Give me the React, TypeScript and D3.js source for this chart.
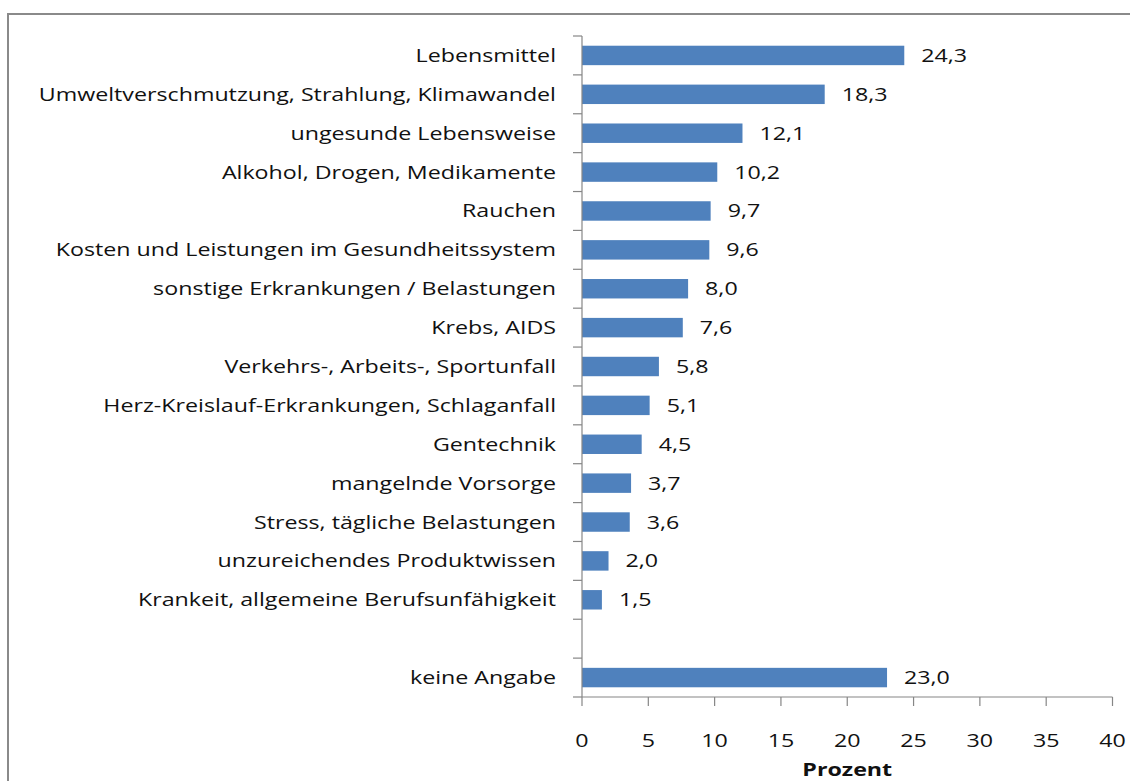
import React, { useEffect, useRef } from "react";
import * as d3 from "d3";

// Umfragewerte (Prozent), von oben nach unten
const categories = [
  "Lebensmittel",
  "Umweltverschmutzung, Strahlung, Klimawandel",
  "ungesunde Lebensweise",
  "Alkohol, Drogen, Medikamente",
  "Rauchen",
  "Kosten und Leistungen im Gesundheitssystem",
  "sonstige Erkrankungen / Belastungen",
  "Krebs, AIDS",
  "Verkehrs-, Arbeits-, Sportunfall",
  "Herz-Kreislauf-Erkrankungen, Schlaganfall",
  "Gentechnik",
  "mangelnde Vorsorge",
  "Stress, tägliche Belastungen",
  "unzureichendes Produktwissen",
  "Krankeit, allgemeine Berufsunfähigkeit",
  "",
  "keine Angabe",
];
const values = [24.3, 18.3, 12.1, 10.2, 9.7, 9.6, 8.0, 7.6, 5.8, 5.1, 4.5, 3.7, 3.6, 2.0, 1.5, null, 23.0];
const xTicks = [0, 5, 10, 15, 20, 25, 30, 35, 40];
const xTitle = "Prozent";

const W = 1130;
const H = 781;
const FONT = "'Open Sans', 'Liberation Sans', sans-serif";
const SX = 1.29; // Schrift horizontal gestreckt wie im Original

const App = () => {
  const ref = useRef<SVGSVGElement | null>(null);

  useEffect(() => {
    const svg = d3.select(ref.current);
    svg.selectAll("*").remove();

    // Rahmen
    svg.append("rect")
      .attr("x", 8).attr("y", 14)
      .attr("width", W + 20).attr("height", H + 20)
      .attr("fill", "white")
      .attr("stroke", "#8a8a8a")
      .attr("stroke-width", 2);

    const keys = categories.map((c, i) => `${i}`);
    const x = d3.scaleLinear().domain([0, 40]).range([582, 1112.5]);
    const y = d3.scaleBand().domain(keys).range([36, 697]).paddingInner(0.5).paddingOuter(0.25);
    const step = y.step();
    const top = 36;

    const fmt = (v: number) => v.toFixed(1).replace(".", ",");

    // Balken
    svg.append("g")
      .selectAll("rect")
      .data(values.map((v, i) => ({ v, k: keys[i] })).filter(d => d.v != null))
      .join("rect")
      .attr("x", x(0))
      .attr("y", d => y(d.k)!)
      .attr("width", d => x(d.v as number) - x(0))
      .attr("height", y.bandwidth())
      .attr("fill", "#4f81bd");

    // Werte
    svg.append("g")
      .selectAll("text")
      .data(values.map((v, i) => ({ v, k: keys[i] })).filter(d => d.v != null))
      .join("text")
      .attr("transform", d => `translate(${x(d.v as number) + 17},${y(d.k)! + y.bandwidth() / 2 + 6.5}) scale(${SX},1)`)
      .attr("font-family", FONT)
      .attr("font-size", 18)
      .attr("fill", "#111")
      .text(d => fmt(d.v as number));

    // Kategorien
    svg.append("g")
      .selectAll("text")
      .data(categories.map((c, i) => ({ c, k: keys[i] })))
      .join("text")
      .attr("transform", d => `translate(556,${y(d.k)! + y.bandwidth() / 2 + 6.5}) scale(${SX},1)`)
      .attr("text-anchor", "end")
      .attr("font-family", FONT)
      .attr("font-size", 18)
      .attr("fill", "#111")
      .text(d => d.c);

    // y-Achse
    const axis = svg.append("g").attr("stroke", "#868686").attr("stroke-width", 1.2);
    axis.append("line")
      .attr("x1", x(0)).attr("x2", x(0))
      .attr("y1", top).attr("y2", 697);
    axis.selectAll("line.yt")
      .data(d3.range(categories.length + 1))
      .join("line")
      .attr("class", "yt")
      .attr("x1", x(0) - 9).attr("x2", x(0))
      .attr("y1", i => top + i * step).attr("y2", i => top + i * step);

    // x-Achse
    axis.append("line")
      .attr("x1", x(0)).attr("x2", x(40))
      .attr("y1", 697).attr("y2", 697);
    axis.selectAll("line.xt")
      .data(xTicks)
      .join("line")
      .attr("class", "xt")
      .attr("x1", d => x(d)).attr("x2", d => x(d))
      .attr("y1", 697).attr("y2", 706);

    svg.append("g")
      .selectAll("text")
      .data(xTicks)
      .join("text")
      .attr("transform", d => `translate(${x(d)},747) scale(${SX},1)`)
      .attr("text-anchor", "middle")
      .attr("font-family", FONT)
      .attr("font-size", 18)
      .attr("fill", "#111")
      .text(d => d);

    svg.append("text")
      .attr("transform", `translate(${(x(0) + x(40)) / 2},776) scale(${SX},1)`)
      .attr("text-anchor", "middle")
      .attr("font-family", FONT)
      .attr("font-size", 18)
      .attr("font-weight", "bold")
      .attr("fill", "#111")
      .text(xTitle);
  }, []);

  return (
    <svg
      ref={ref}
      width={W}
      height={H}
      style={{ position: "absolute", left: 0, top: 0, display: "block", background: "white" }}
    />
  );
};

export default App;
